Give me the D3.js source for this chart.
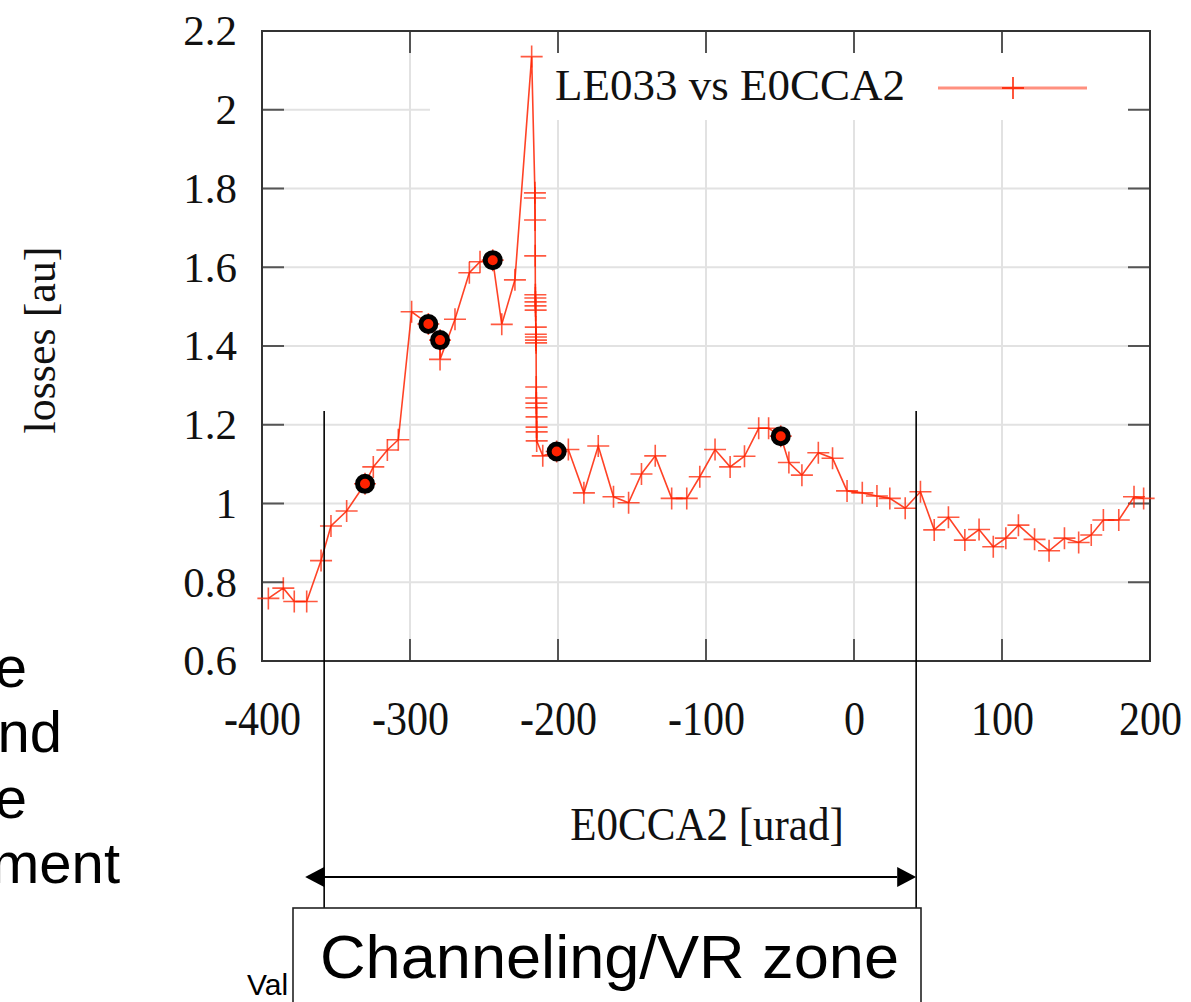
<!DOCTYPE html>
<html>
<head>
<meta charset="utf-8">
<script src="https://cdn.jsdelivr.net/npm/d3@7"></script>
<style>
  body { margin: 0; background: #fff; }
  svg { display: block; }
</style>
</head>
<body>
<div id="chart"></div>
<script>
// tick values
const xTicks = [-400, -300, -200, -100, 0, 100, 200];
const yTicks = [0.6, 0.8, 1, 1.2, 1.4, 1.6, 1.8, 2, 2.2];

// LE033 vs E0CCA2
const angle = [-395.7, -385.6, -378.2, -369.8, -360.1, -353.4, -342.8, -330.4, -324.8, -315.3, -307.9,
  -298.9, -287.6, -279.7, -279.7, -269.6, -259.9, -252.7, -244.1, -238.0, -229.1, -217.8,
  -215.6, -215.6, -215.5, -215.4, -215.3, -215.3, -215.2, -215.2, -215.1, -215.0, -215.0, -214.9, -214.9, -214.8,
  -214.7, -214.7, -214.6, -214.6, -214.5, -214.5, -214.4, -214.4,
  -210.3, -200.9, -193.0, -182.5, -172.8, -162.5, -152.3, -143.6, -134.3, -123.2, -113.0, -104.2,
  -93.9, -83.7, -74.0, -64.4, -57.7, -49.5, -44.0, -35.2, -24.1, -14.5, -4.7, 5.6, 15.5, 24.2, 34.6,
  44.9, 54.2, 63.8, 74.9, 84.5, 94.1, 102.6, 111.1, 122.0, 131.8, 142.2, 151.8, 160.3, 168.5, 178.9,
  189.2, 195.7];
const losses = [0.759, 0.785, 0.751, 0.751, 0.855, 0.943, 0.981, 1.050, 1.093, 1.136, 1.162,
  1.487, 1.456, 1.415, 1.366, 1.468, 1.586, 1.614, 1.618, 1.455, 1.568, 2.135,
  1.789, 1.776, 1.720, 1.629, 1.530, 1.522, 1.512, 1.502, 1.491, 1.448, 1.430, 1.423, 1.415, 1.408,
  1.296, 1.268, 1.255, 1.243, 1.220, 1.194, 1.182, 1.159,
  1.121, 1.132, 1.137, 1.027, 1.146, 1.017, 1.002, 1.075, 1.121, 1.013, 1.013, 1.068,
  1.137, 1.093, 1.120, 1.191, 1.191, 1.171, 1.104, 1.072, 1.129, 1.115, 1.032, 1.027, 1.019, 1.013, 0.988,
  1.030, 0.933, 0.965, 0.907, 0.934, 0.890, 0.912, 0.945, 0.909, 0.880, 0.912, 0.901, 0.920, 0.958, 0.958,
  1.017, 1.013];

// highlighted points
const markedAngle = [-330.4, -287.6, -279.7, -244.1, -200.9, -49.5];
const markedLoss = [1.050, 1.456, 1.415, 1.618, 1.132, 1.171];

// channeling / VR zone limits
const zoneAngle = [-358, 42];

const W = 1191, H = 1002;
const pLeft = 262, pRight = 1150, pTop = 31, pBottom = 661;
const serif = "'Liberation Serif', 'Times New Roman', serif";
const sans = "'Liberation Sans', Arial, sans-serif";
const red = "#ff2200";

const svg = d3.select("#chart").append("svg")
  .attr("width", W).attr("height", H);

const x = d3.scaleLinear().domain([-400, 200]).range([pLeft, pRight]);
const y = d3.scaleLinear().domain([0.6, 2.2]).range([pBottom, pTop]);

// grid
svg.append("g")
  .selectAll("line")
  .data(xTicks.slice(1, -1))
  .enter().append("line")
    .attr("x1", d => x(d)).attr("x2", d => x(d))
    .attr("y1", pTop).attr("y2", pBottom)
    .attr("stroke", "#e2e2e2").attr("stroke-width", 2);
svg.append("g")
  .selectAll("line")
  .data(yTicks.slice(1, -1))
  .enter().append("line")
    .attr("x1", pLeft).attr("x2", pRight)
    .attr("y1", d => y(d)).attr("y2", d => y(d))
    .attr("stroke", "#e2e2e2").attr("stroke-width", 2);

// legend box hides the grid
svg.append("rect")
  .attr("x", 430).attr("y", pTop + 1)
  .attr("width", pRight - 431).attr("height", 88)
  .attr("fill", "#fff");

// inner ticks on all four sides
const tickLen = 22;
const tk = svg.append("g").attr("stroke", "#555").attr("stroke-width", 2);
xTicks.forEach(d => {
  tk.append("line").attr("x1", x(d)).attr("x2", x(d)).attr("y1", pBottom).attr("y2", pBottom - tickLen);
  tk.append("line").attr("x1", x(d)).attr("x2", x(d)).attr("y1", pTop).attr("y2", pTop + tickLen);
});
yTicks.forEach(d => {
  tk.append("line").attr("x1", pLeft).attr("x2", pLeft + tickLen).attr("y1", y(d)).attr("y2", y(d));
  tk.append("line").attr("x1", pRight).attr("x2", pRight - tickLen).attr("y1", y(d)).attr("y2", y(d));
});

// frame
svg.append("rect")
  .attr("x", pLeft).attr("y", pTop)
  .attr("width", pRight - pLeft).attr("height", pBottom - pTop)
  .attr("fill", "none").attr("stroke", "#333").attr("stroke-width", 2);

// tick labels through axes
const xAxis = svg.append("g")
  .attr("transform", `translate(0,${pBottom})`)
  .call(d3.axisBottom(x).tickValues(xTicks).tickSize(0).tickPadding(0).tickFormat(d => String(d)));
const yAxis = svg.append("g")
  .attr("transform", `translate(${pLeft},0)`)
  .call(d3.axisLeft(y).tickValues(yTicks).tickSize(0).tickPadding(25).tickFormat(d => String(+d.toFixed(1))));
[xAxis, yAxis].forEach(a => {
  a.select(".domain").remove();
  a.selectAll("text").attr("font-family", serif).attr("fill", "#111");
});
// x labels are a bit condensed in the original
xAxis.selectAll("text")
  .attr("font-size", 42)
  .attr("y", 0).attr("dy", null)
  .attr("transform", "translate(0,74) scale(1,1.16)");
yAxis.selectAll("text").attr("font-size", 43);

// axis titles
svg.append("text")
  .attr("transform", "translate(707,840) scale(1,1.1)")
  .attr("text-anchor", "middle")
  .attr("font-family", serif).attr("font-size", 43).attr("fill", "#111")
  .text("E0CCA2 [urad]");
svg.append("text")
  .attr("transform", "translate(55,340) rotate(-90)")
  .attr("text-anchor", "middle")
  .attr("font-family", serif).attr("font-size", 44).attr("fill", "#111")
  .text("losses [au]");

// data
const pts = angle.map((a, i) => ({ x: a, y: losses[i] }));
svg.append("path")
  .datum(pts)
  .attr("fill", "none")
  .attr("stroke", red).attr("stroke-opacity", 0.85)
  .attr("stroke-width", 1.6)
  .attr("d", d3.line().x(d => x(d.x)).y(d => y(d.y)));
svg.append("g")
  .selectAll("path")
  .data(pts)
  .enter().append("path")
    .attr("transform", d => `translate(${x(d.x)},${y(d.y)})`)
    .attr("d", "M-11,0H11M0,-11V11")
    .attr("stroke", red).attr("stroke-opacity", 0.75)
    .attr("stroke-width", 1.6).attr("fill", "none");

// legend
svg.append("text")
  .attr("x", 555).attr("y", 100)
  .attr("font-family", serif).attr("font-size", 45).attr("fill", "#111")
  .text("LE033 vs E0CCA2");
svg.append("line")
  .attr("x1", 938).attr("x2", 1087).attr("y1", 88).attr("y2", 88)
  .attr("stroke", red).attr("stroke-opacity", 0.5).attr("stroke-width", 3);
svg.append("path")
  .attr("transform", "translate(1013,88)")
  .attr("d", "M-11,0H11M0,-11V11")
  .attr("stroke", red).attr("stroke-opacity", 0.85).attr("stroke-width", 1.8);

// highlighted circles
svg.append("g")
  .selectAll("circle")
  .data(markedAngle.map((a, i) => ({ x: a, y: markedLoss[i] })))
  .enter().append("circle")
    .attr("cx", d => x(d.x)).attr("cy", d => y(d.y))
    .attr("r", 7.5)
    .attr("fill", red).attr("stroke", "#000").attr("stroke-width", 5);

// zone annotation
const zy0 = 411, zBoxTop = 908, arrowY = 877;
zoneAngle.forEach(a => {
  svg.append("line")
    .attr("x1", x(a)).attr("x2", x(a)).attr("y1", zy0).attr("y2", zBoxTop)
    .attr("stroke", "#000").attr("stroke-width", 1.6);
});
const xl = x(zoneAngle[0]), xr = x(zoneAngle[1]);
svg.append("line")
  .attr("x1", xl).attr("x2", xr - 19).attr("y1", arrowY).attr("y2", arrowY)
  .attr("stroke", "#000").attr("stroke-width", 2);
svg.append("path")
  .attr("d", `M${xl - 19},${arrowY}L${xl},${arrowY - 10}L${xl},${arrowY + 10}Z`)
  .attr("fill", "#000");
svg.append("path")
  .attr("d", `M${xr},${arrowY}L${xr - 19},${arrowY - 10}L${xr - 19},${arrowY + 10}Z`)
  .attr("fill", "#000");

svg.append("rect")
  .attr("x", 293).attr("y", zBoxTop)
  .attr("width", 628).attr("height", 120)
  .attr("fill", "#fff").attr("stroke", "#222").attr("stroke-width", 1.6);
svg.append("text")
  .attr("x", 320).attr("y", 978)
  .attr("font-family", sans).attr("font-size", 61).attr("fill", "#000")
  .attr("textLength", 579).attr("lengthAdjust", "spacingAndGlyphs")
  .text("Channeling/VR zone");

// slide text cut off on the left
const slideWords = ["e", "nd", "e", "ment"];
const slideEnds = [27, 62, 27, 120];
slideWords.forEach((w, i) => {
  svg.append("text")
    .attr("x", slideEnds[i]).attr("y", 687 + i * 65.3)
    .attr("text-anchor", "end")
    .attr("font-family", sans).attr("font-size", 58).attr("fill", "#000")
    .text(w);
});
svg.append("text")
  .attr("x", 247).attr("y", 995)
  .attr("font-family", sans).attr("font-size", 30).attr("fill", "#000")
  .text("Val");
</script>
</body>
</html>
